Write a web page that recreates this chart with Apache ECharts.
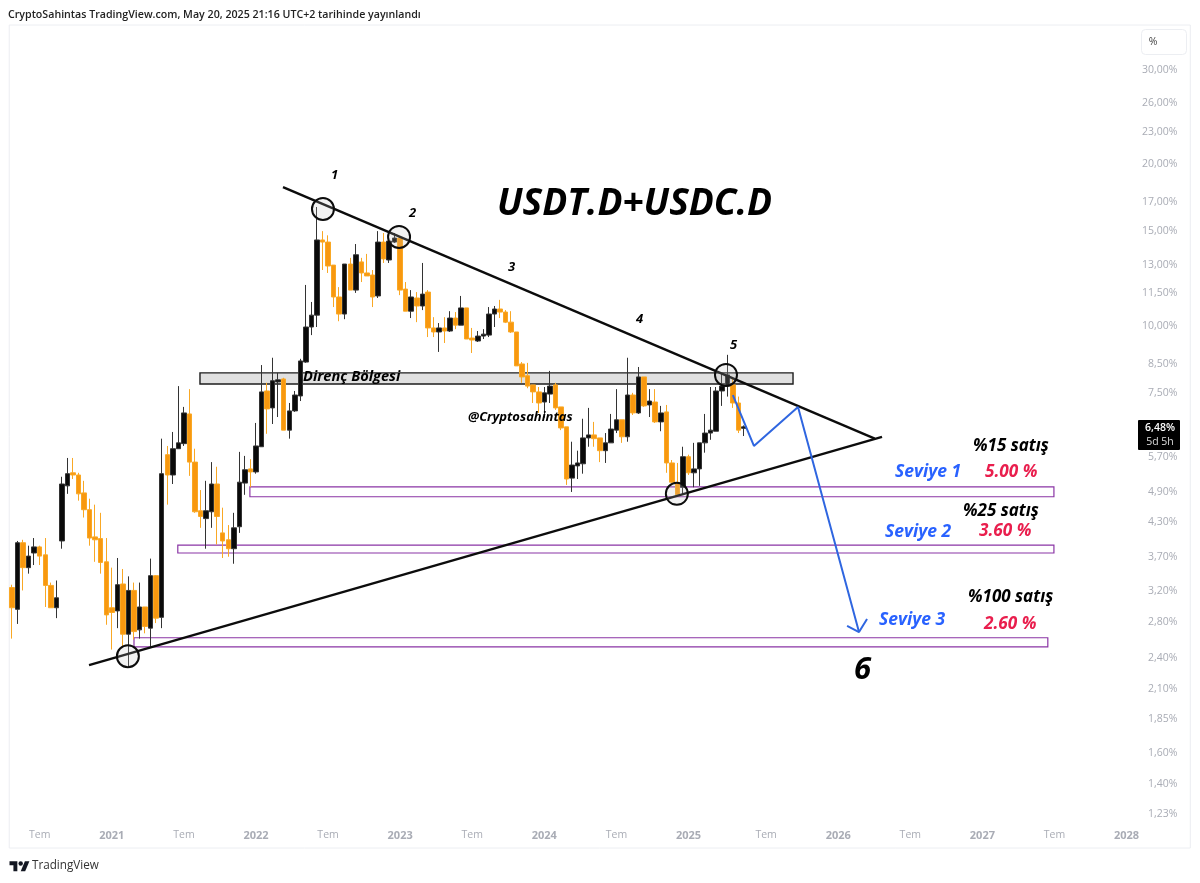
<!DOCTYPE html>
<html>
<head>
<meta charset="utf-8">
<style>html,body{margin:0;padding:0;background:#fff}#chart{width:1200px;height:883px}</style>
<script src="https://cdn.jsdelivr.net/npm/echarts@6/dist/echarts.min.js"></script>
</head>
<body>
<div id="chart"></div>
<script>
// Two-week candles of the combined USDT + USDC dominance, in percent.
const opens = [3.25,2.96,3.94,3.54,3.77,3.87,3.74,3.28,2.98,3.97,
5.03,5.32,5.27,4.88,4.54,4.04,4.01,3.63,2.98,2.94,
3.30,2.66,3.21,2.71,2.99,2.73,3.42,2.86,5.75,5.27,
5.90,6.03,6.85,5.57,4.52,4.37,4.50,5.07,4.11,3.99,
3.84,4.22,5.09,5.41,5.34,5.95,7.56,7.03,7.86,7.96,
6.39,6.94,7.40,8.56,9.95,10.47,14.46,14.33,12.98,11.32,
10.52,13.04,11.66,13.16,12.55,12.44,11.37,14.33,13.27,14.33,
14.58,11.71,10.65,11.27,10.89,11.56,9.91,9.74,9.91,9.78,
10.34,10.03,10.80,9.49,9.37,9.57,9.61,10.52,10.75,10.61,
10.16,9.74,8.49,8.07,7.76,7.53,7.21,7.46,7.76,7.06,
6.48,5.20,5.48,5.53,6.18,6.26,6.18,5.85,6.05,6.39,
6.68,6.21,7.43,6.88,8.03,7.12,7.21,6.62,6.91,5.55,
5.09,5.00,5.70,5.32,5.41,6.05,6.31,6.36,7.56,7.72,
7.76,7.18,6.44];
const closes = [2.98,3.94,3.54,3.72,3.87,3.72,3.28,2.98,3.11,5.07,
5.30,5.27,4.86,4.54,4.02,3.99,3.62,2.89,2.92,3.29,
2.66,3.21,2.69,2.99,2.75,3.42,2.85,5.30,5.27,5.90,
6.05,6.88,5.57,4.50,4.41,4.52,5.07,4.41,3.97,3.84,
4.20,5.11,5.39,5.34,5.97,7.53,7.00,7.90,7.93,6.39,
6.94,7.43,8.60,9.95,10.47,14.46,14.33,12.93,11.32,10.52,
13.04,11.66,13.57,12.55,12.39,11.32,14.33,13.33,14.39,14.58,
11.66,10.65,11.32,10.89,11.46,9.91,9.74,9.91,9.78,10.34,
10.03,10.80,9.45,9.41,9.57,9.65,10.52,10.75,10.61,10.16,
9.74,8.42,8.03,7.72,7.53,7.18,7.50,7.72,7.03,6.45,
5.18,5.50,5.55,6.18,6.26,6.16,5.85,6.05,6.42,6.68,
6.21,7.43,6.88,8.03,7.09,7.24,6.62,6.88,5.55,5.11,
4.84,5.70,5.32,5.41,6.05,6.31,6.39,7.56,7.72,8.10,
7.18,6.39,6.48];
const lows = [2.61,2.78,3.21,3.45,3.58,3.58,2.99,2.98,2.85,3.84,
4.86,5.18,4.72,4.39,3.89,3.63,3.45,2.77,2.49,2.73,
2.52,2.31,2.60,2.61,2.67,2.52,2.79,2.73,4.64,5.07,
5.90,5.97,5.25,4.48,4.20,3.84,4.20,3.91,3.69,3.71,
3.60,4.11,4.84,5.00,5.30,5.95,6.29,6.56,6.76,6.39,
6.16,6.91,7.24,8.53,9.61,9.95,12.71,12.55,10.84,10.20,
10.29,11.66,11.52,12.07,12.39,10.84,11.27,13.10,13.10,14.27,
11.41,10.65,10.34,10.16,10.70,9.53,9.53,8.94,9.29,9.74,
9.86,10.03,9.45,8.90,9.33,9.45,9.53,9.95,10.34,10.12,
9.70,8.42,7.83,7.65,7.18,6.88,6.74,7.18,6.97,6.39,
5.05,4.90,5.18,5.30,5.95,5.95,5.57,5.55,6.05,6.31,
6.05,6.08,6.82,6.85,7.06,6.76,6.59,6.36,5.32,5.09,
4.84,4.84,5.27,5.00,5.03,5.80,6.13,6.36,7.09,7.38,
7.03,6.31,6.23];
const highs = [3.29,3.97,3.99,3.89,4.02,3.89,4.02,3.32,3.35,5.23,
5.67,5.67,5.32,5.14,4.76,4.64,4.48,4.02,3.54,3.69,
3.52,3.41,3.32,3.32,2.99,3.68,3.43,6.16,5.97,6.34,
7.72,7.06,7.62,5.90,4.94,5.14,5.57,5.46,4.58,4.25,
4.48,5.82,5.72,5.64,6.59,8.45,7.83,8.72,8.17,8.00,
7.18,7.56,8.68,11.92,11.08,16.66,15.02,14.75,12.98,11.81,
13.04,13.39,14.21,13.39,13.62,12.71,15.02,14.90,14.90,14.90,
14.64,12.07,11.66,11.56,13.10,11.66,10.38,10.12,10.38,10.65,
10.61,11.37,10.80,9.91,9.78,9.86,10.84,10.89,11.18,10.70,
10.65,9.74,8.56,8.53,7.76,7.69,7.69,8.24,7.83,7.06,
6.48,6.08,5.85,6.71,7.03,6.62,6.18,6.31,6.85,7.62,
6.68,8.72,7.50,8.38,8.03,7.62,7.62,7.09,7.12,5.62,
5.55,5.95,5.75,6.05,6.05,6.85,7.69,7.69,8.17,8.83,
8.03,7.38,6.52];

// Time axis: one category per bar, including the empty bars ahead of the last candle.
const barCount = 213;
const timeLabels = ['Tem','2021','Tem','2022','Tem','2023','Tem','2024','Tem','2025','Tem','2026','Tem','2027','Tem','2028'];
const timeLabelBars = [5,18,31,44,57,70,83,96,109,122,136,149,162,175,188,201];
const percentTicks = [30,26,23,20,17,15,13,11.5,10,8.5,7.5,5.7,4.9,4.3,3.7,3.2,2.8,2.4,2.1,1.85,1.6,1.4,1.23];

// Drawn analysis, as [bar position, percent].
const upperTrend = [[48.87,18.15],[155.6,6.16]];
const lowerTrend = [[13.89,2.33],[156.9,6.21]];
const projectedPath = [[130,7.43],[133.8,5.97],[141.75,7.06],[152.75,2.685]];
const arrowHead = [[150.6,2.757],[152.75,2.685],[154.2,2.84]];
const touchPoints = [[56.08,16.52],[69.8,14.65],[128.76,8.10],[119.9,4.86],[20.9,2.42]];
// Zones as [first bar, last bar, upper percent, lower percent].
const resistanceZone = [[33.9,140.85,8.17,7.79]];
const supportZones = [[42.9,187.9,5.01,4.80],[29.9,187.9,3.90,3.77],[22,186.8,2.62,2.52]];

const lastClose = closes[closes.length - 1];
const categories = Array.from({length: barCount}, () => '');
timeLabelBars.forEach((bar, k) => { categories[bar] = timeLabels[k]; });
const candles = opens.map((o, i) => [o, closes[i], lows[i], highs[i]]);

function zoneSeries(data, fill, stroke, lineWidth, z) {
  return {
    type: 'custom', xAxisIndex: 1, yAxisIndex: 0, z, silent: true, clip: false,
    encode: {x: [0, 1], y: [2, 3]}, data,
    renderItem(params, api) {
      const a = api.coord([api.value(0), api.value(2)]);
      const b = api.coord([api.value(1), api.value(3)]);
      return {type: 'rect', shape: {x: a[0], y: a[1], width: b[0] - a[0], height: b[1] - a[1]},
        style: {fill, stroke, lineWidth}};
    }
  };
}
function pathSeries(data, color, width, z) {
  return {type: 'line', xAxisIndex: 1, yAxisIndex: 0, data, z, silent: true, showSymbol: false, clip: false,
    symbol: 'none', lineStyle: {color, width}};
}

const italicBold = (size) => `italic bold ${size}px "Open Sans"`;
const notes = [
  ['USDT.D+USDC.D', 497, 204, italicBold(37), '#000'],
  ['1', 331, 175, italicBold(13), '#000'], ['2', 409, 213, italicBold(13), '#000'],
  ['3', 508, 267, italicBold(13), '#000'], ['4', 636, 319, italicBold(13), '#000'],
  ['5', 730, 345, italicBold(13), '#000'],
  ['Direnç Bölgesi', 303, 377, italicBold(14.6), '#000'],
  ['@Cryptosahintas', 468, 417, italicBold(13), '#000'],
  ['%15 satış', 973, 446, italicBold(17), '#000'],
  ['Seviye 1', 895, 472, italicBold(17.5), '#2962ff'],
  ['5.00 %', 985, 472, italicBold(17.2), '#e91e4d'],
  ['%25 satış', 963, 511, italicBold(17), '#000'],
  ['Seviye 2', 885, 532, italicBold(17.5), '#2962ff'],
  ['3.60 %', 979, 531, italicBold(17.2), '#e91e4d'],
  ['%100 satış', 968, 597, italicBold(17), '#000'],
  ['Seviye 3', 879, 620, italicBold(17.5), '#2962ff'],
  ['2.60 %', 984, 624, italicBold(17.2), '#e91e4d'],
  ['6', 854, 670, italicBold(31), '#000']
];
const noteElements = notes.map(([text, x, y, font, fill]) => ({
  type: 'text', z: 50, silent: true,
  style: {text, x, y, font, fill, textAlign: 'left', textVerticalAlign: 'middle'}
}));

const chart = echarts.init(document.getElementById('chart'), null, {renderer: 'canvas'});
chart.setOption({
  animation: false,
  backgroundColor: '#ffffff',
  textStyle: {fontFamily: '"Open Sans"'},
  grid: {left: 9.23, right: 9.67, top: 25, bottom: 35, show: true, borderColor: '#eceef2', borderWidth: 1, backgroundColor: '#fff'},
  xAxis: [
    {
      type: 'category', data: categories, boundaryGap: true,
      axisLine: {show: false}, axisTick: {show: false}, splitLine: {show: false},
      axisLabel: {
        inside: true, margin: 7, interval: (i) => categories[i] !== '',
        hideOverlap: false, showMinLabel: true, showMaxLabel: true,
        formatter: (v) => /^\d/.test(v) ? `{year|${v}}` : v,
        color: '#a9acb5', fontSize: 10.5,
        rich: {year: {color: '#a9acb5', fontSize: 11, fontWeight: 'bold'}}
      }
    },
    {type: 'value', min: -0.5, max: barCount - 0.5, show: false}
  ],
  yAxis: [{
    type: 'log', logBase: 10, min: 1.062, max: 36.4, position: 'right', scale: true,
    axisLine: {show: false}, axisTick: {show: false}, splitLine: {show: false},
    axisLabel: {
      inside: true, margin: 13, color: '#a9acb5', fontSize: 10.5, padding: [2, 0, 0, 0],
      customValues: percentTicks,
      formatter: (v) => v.toFixed(2).replace('.', ',') + '%'
    }
  }],
  series: [
    zoneSeries(resistanceZone, 'rgba(205,205,205,0.62)', '#1c1c1c', 1.4, 1),
    zoneSeries(supportZones, 'rgba(255,255,255,0)', '#8a35a5', 1.2, 1),
    {
      type: 'candlestick', name: 'USDT.D+USDC.D', xAxisIndex: 0, yAxisIndex: 0, z: 3,
      barWidth: 5, data: candles, silent: true,
      itemStyle: {color: '#0a0a0a', color0: '#f8980f', borderColor: '#333333', borderColor0: '#f9a825', borderWidth: 1}
    },
    pathSeries(upperTrend, '#0c0c0c', 2.4, 5),
    pathSeries(lowerTrend, '#0c0c0c', 2.4, 5),
    pathSeries(projectedPath, '#2f66e0', 2, 6),
    pathSeries(arrowHead, '#2f66e0', 2, 6),
    {
      type: 'scatter', xAxisIndex: 1, yAxisIndex: 0, z: 7, silent: true, clip: false,
      data: touchPoints, symbol: 'circle', symbolSize: 22,
      itemStyle: {color: 'rgba(190,190,190,0.2)', borderColor: '#0c0c0c', borderWidth: 2, opacity: 1}
    }
  ],
  graphic: [
    {type: 'text', z: 50, silent: true, style: {
      text: 'CryptoSahintas TradingView.com, May 20, 2025 21:16 UTC+2 tarihinde yayınlandı',
      x: 8, y: 15, font: '600 10.65px "Open Sans"', fill: '#222', textVerticalAlign: 'middle'}},
    {type: 'rect', z: 50, silent: true, shape: {x: 1141.5, y: 29.5, width: 45, height: 25, r: 4},
      style: {fill: '#fff', stroke: '#eceef2', lineWidth: 1}},
    {type: 'text', z: 51, silent: true, style: {text: '%', x: 1153, y: 42, font: '10.5px "Open Sans"', fill: '#444',
      textAlign: 'center', textVerticalAlign: 'middle'}},
    {type: 'rect', z: 50, silent: true, shape: {x: 1138, y: 420, width: 42, height: 30, r: 1}, style: {fill: '#000'}},
    {type: 'text', z: 51, silent: true, style: {text: lastClose.toFixed(2).replace('.', ',') + '%', x: 1160, y: 428,
      font: '600 10.5px "Open Sans"', fill: '#fff', textAlign: 'center', textVerticalAlign: 'middle'}},
    {type: 'text', z: 51, silent: true, style: {text: '5d 5h', x: 1160, y: 442,
      font: '10.5px "Open Sans"', fill: '#ddd', textAlign: 'center', textVerticalAlign: 'middle'}},
    {type: 'polygon', z: 50, silent: true, x: 9.5, y: 859, scaleX: 0.56, scaleY: 0.56,
      shape: {points: [[14,22],[7,22],[7,11],[0,11],[0,4],[14,4]]}, style: {fill: '#131722'}},
    {type: 'polygon', z: 50, silent: true, x: 9.5, y: 859, scaleX: 0.56, scaleY: 0.56,
      shape: {points: [[28,22],[20,22],[27.5,4],[35.5,4]]}, style: {fill: '#131722'}},
    {type: 'circle', z: 50, silent: true, x: 9.5, y: 859, scaleX: 0.56, scaleY: 0.56,
      shape: {cx: 20, cy: 8, r: 4}, style: {fill: '#131722'}},
    {type: 'text', z: 50, silent: true, style: {text: 'TradingView', x: 32, y: 866,
      font: '11.7px "Open Sans"', fill: '#333', textVerticalAlign: 'middle'}},
    ...noteElements
  ]
});
</script>
</body>
</html>
